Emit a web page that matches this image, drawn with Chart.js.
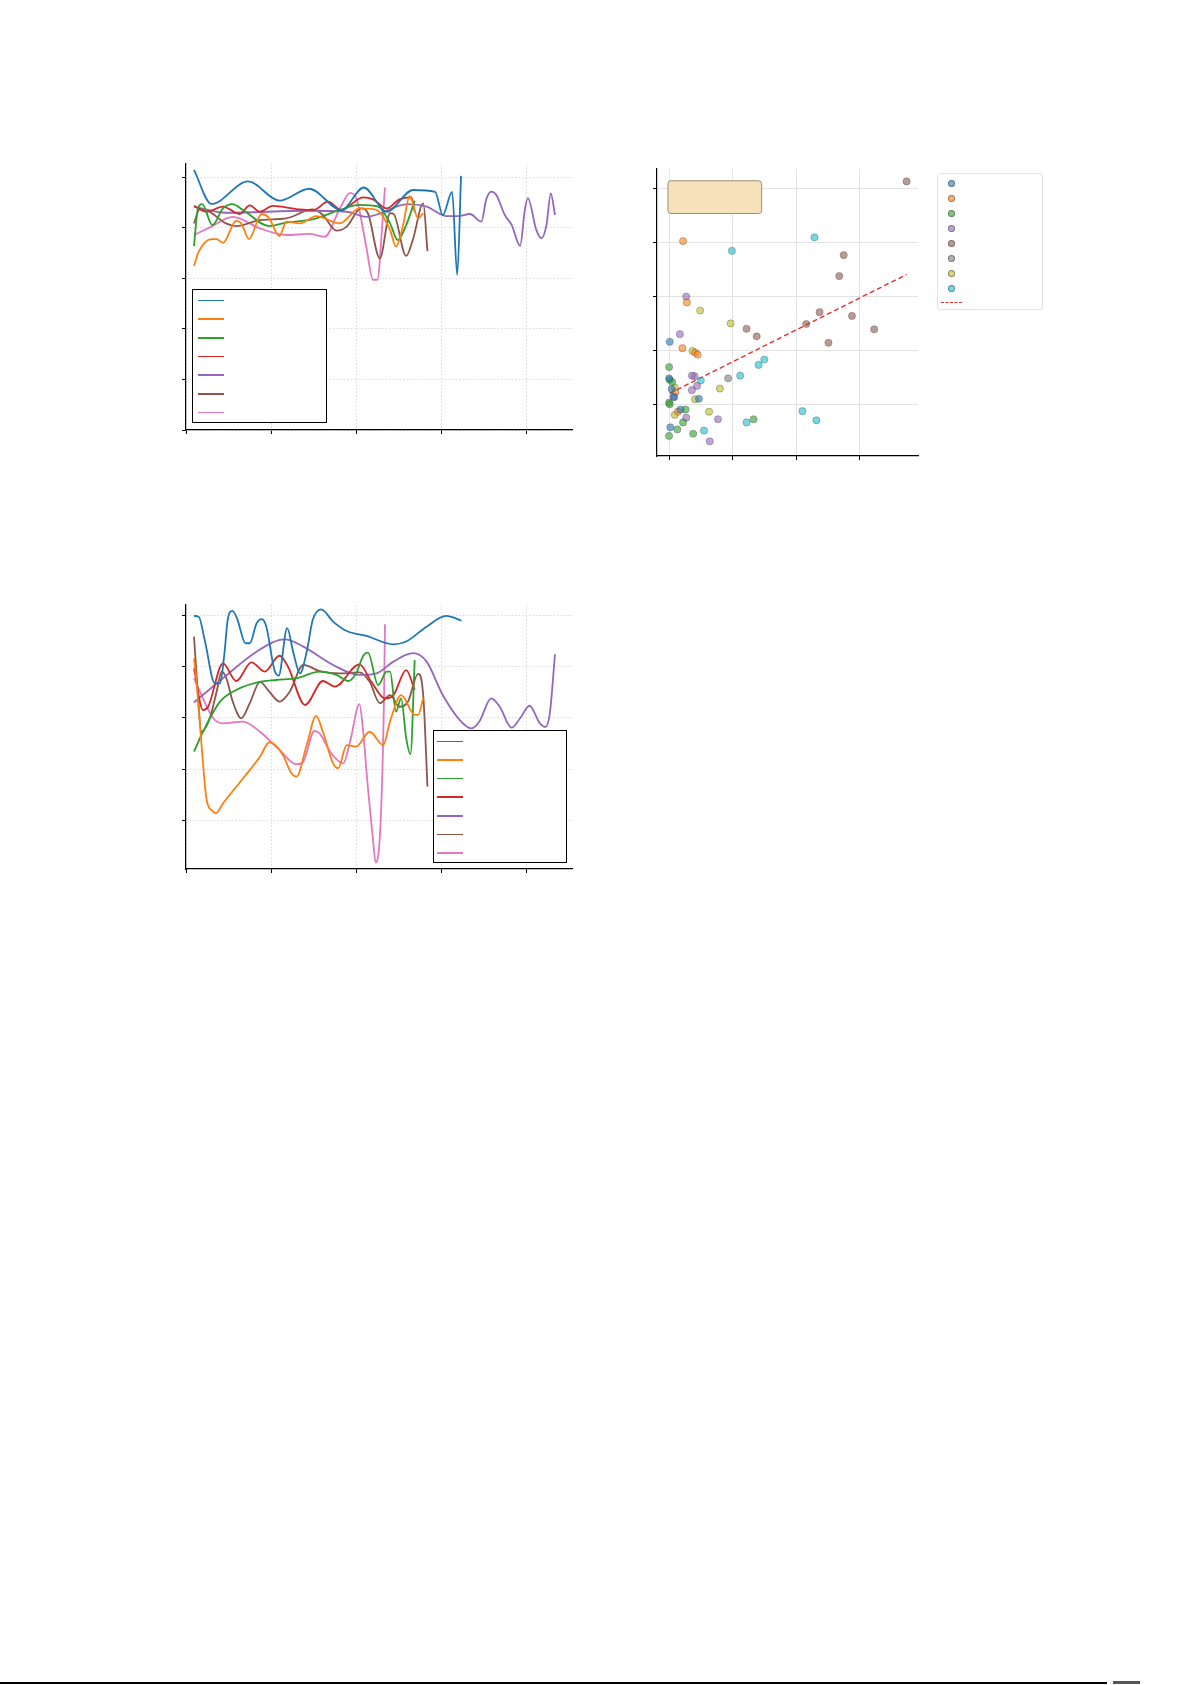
<!DOCTYPE html>
<html>
<head>
<meta charset="utf-8">
<script src="https://cdn.jsdelivr.net/npm/chart.js@4.4.1/dist/chart.umd.min.js"></script>
<style>
  body { margin: 0; background: #fff; width: 1192px; height: 1685px; position: relative; overflow: hidden; }
  canvas { position: absolute; }
  .legend { position: absolute; background: #fff; box-sizing: border-box; }
  .legend .sw { position: absolute; }
  .legend .dot { position: absolute; width: 7px; height: 7px; border-radius: 50%; box-sizing: border-box; }
  #pagerule { position: absolute; left: 0; top: 1682px; width: 1107px; height: 2px; background: #000; }
  #pagemark { position: absolute; left: 1113px; top: 1681px; width: 27px; height: 3px; background: #555; }
</style>
</head>
<body>
<canvas id="c1"></canvas>
<canvas id="c2"></canvas>
<canvas id="c3"></canvas>
<div id="pagerule"></div>
<div id="pagemark"></div>
<script>
const tab = {
  blue: '#1f77b4', orange: '#ff7f0e', green: '#2ca02c', red: '#d62728', purple: '#9467bd',
  brown: '#8c564b', pink: '#e377c2', gray: '#7f7f7f', olive: '#bcbd22', cyan: '#17becf',
};

// ---- chart 1 (top left) ----
const c1BlueX = [0.94, 3, 7.3, 11, 14.5, 18.3, 20.9, 23.6, 26.7, 29.3, 30.2, 31.3, 31.9, 32.35];
const c1BlueY = [103, 89.5, 98.4, 90.8, 95.5, 87, 96, 86.4, 95, 94.3, 85.1, 94.3, 61.4, 100.6];
const c1OrangeX = [0.94, 1.5, 3, 3.6, 4.35, 5.9, 6.5, 7.4, 8.9, 9.7, 11, 11.8, 13.4, 15.3, 18.1, 20.4, 22.4, 24, 24.7, 25.5, 26.3, 27.3, 27.9];
const c1OrangeY = [65, 70.6, 75.6, 75.6, 74.1, 82.8, 81.8, 75.6, 85.5, 84.2, 76.8, 82.5, 81.8, 84.7, 81.8, 87.7, 87.1, 79.2, 72.6, 80.5, 92.6, 83.8, 85.8];
const c1GreenX = [0.94, 1.4, 1.9, 3.1, 4.35, 5.45, 6.7, 9.8, 11.8, 14.9, 18.1, 20.4, 22.6, 24, 24.9, 25.9, 26.9];
const c1GreenY = [72.8, 87.7, 89.4, 81.1, 87.7, 89.4, 87.1, 80.7, 82.1, 83.4, 87.1, 89.1, 88.4, 81.8, 75.2, 81.1, 90.8];
const c1RedX = [0.94, 2.4, 4.35, 6.3, 7.5, 8.7, 10.2, 13.4, 15, 16.7, 18.3, 20.8, 22, 23.6, 25.1, 26.5, 26.9];
const c1RedY = [88.7, 86.4, 88.4, 85.5, 88.9, 86.4, 88.7, 87.3, 87.1, 90.4, 87.1, 92.1, 91.3, 87.7, 91.3, 92.1, 86.4];
const c1PurpleX = [0.94, 4.7, 14.5, 18.9, 21.2, 26.1, 28.3, 30.6, 32, 33.4, 34.75, 35.3, 35.9, 36.5, 37.5, 38.3, 39.3, 39.85, 40.2, 41.2, 41.8, 42.4, 42.9, 43.4];
const c1PurpleY = [88.4, 86, 86.8, 86.4, 84.4, 89.4, 88.4, 84.7, 84.7, 85.5, 82.5, 91.1, 94.4, 93, 85.1, 81.2, 72.9, 87.1, 91.8, 79.2, 75.9, 81.2, 93.7, 85.1];
const c1BrownX = [0.94, 1.6, 2.4, 4.7, 5.9, 8.7, 11.8, 14.9, 16.1, 17.7, 18.9, 20.6, 21.4, 22.8, 24, 24.4, 25.9, 26.7, 27.9, 28.4];
const c1BrownY = [81.8, 87.3, 87, 81.8, 80.7, 83.1, 83.8, 87.3, 85.1, 78.9, 80.5, 87.7, 85.8, 67.9, 85.8, 85.6, 68.9, 75.5, 89.7, 70.8];
const c1PinkX = [0.94, 2.8, 5.5, 8.7, 11.8, 14.5, 16.3, 18.1, 19.3, 20.1, 21.2, 22, 22.5, 23.1, 23.4];
const c1PinkY = [77.2, 80.2, 84.4, 79.8, 77.2, 77.6, 76.5, 87.7, 93.9, 91, 72.6, 59.4, 59.4, 81.8, 96];
const c1LegendWidths = [1, 2, 2, 1, 2, 2, 1.5];

// ---- chart 3 (bottom left) ----
const c3BlueX = [0.94, 1.5, 2.2, 3.4, 4, 4.5, 4.9, 5.45, 6, 7, 7.5, 8.3, 8.9, 9.45, 10.4, 10.9, 11.9, 12.6, 13.4, 14.2, 14.9, 15.9, 17.3, 18.9, 21.2, 24.4, 25.9, 28.3, 30.6, 32.4];
const c3BlueY = [100, 99.7, 90.6, 73.6, 73.6, 84.7, 98.4, 102, 99.1, 89.3, 89.3, 97.1, 98.8, 95.8, 78.8, 76.6, 95.2, 86, 77.5, 86, 98.4, 102.6, 97.8, 94.1, 92.2, 88.9, 90, 95.8, 100, 98.2];
const c3OrangeX = [0.94, 1.2, 1.8, 2.4, 3.2, 3.5, 4.35, 6.7, 8.7, 9.8, 10.2, 11.4, 12.4, 13, 14.2, 15.3, 16.1, 17.3, 17.9, 18.9, 20, 21.6, 23.2, 24, 25.3, 26.9, 27.3, 27.9];
const c3OrangeY = [83.4, 75.6, 50.7, 28.5, 23.3, 22.6, 26.5, 36.3, 44.8, 50.5, 50.1, 45.5, 38.3, 37, 49.4, 60.8, 54.6, 42.2, 40.3, 49.4, 48.8, 54.6, 49.4, 58.6, 69, 61.2, 61.2, 67.7];
const c3GreenX = [0.94, 2, 4, 5.9, 8.3, 10.6, 13, 15.7, 17.7, 19.1, 20, 20.9, 21.4, 22.6, 23.6, 24, 24.7, 25.3, 25.9, 26.4, 26.9];
const c3GreenY = [46.8, 54.6, 66.4, 71, 73.9, 74.9, 75.6, 78.2, 76.9, 74.5, 77.5, 84.7, 85.6, 72.9, 78.2, 78.2, 62.5, 67.7, 52, 45.8, 82.7];
const c3RedX = [0.94, 2, 2.6, 4.35, 5.9, 7.7, 9.25, 11, 12, 14, 16.1, 17.5, 20.4, 21.8, 23.4, 24.4, 25.9, 26.9];
const c3RedY = [79.5, 63.1, 64.4, 81.4, 74.5, 81.8, 78.2, 84.4, 80.1, 65.1, 74.5, 72.3, 81, 74.2, 67.7, 69, 78.8, 71];
const c3PurpleX = [0.94, 4.35, 8.3, 11.6, 13.8, 17.3, 20.4, 22.4, 24.4, 26.7, 28.3, 30.2, 32.2, 33.6, 34.5, 35.9, 36.9, 38.3, 39.3, 40.4, 41.6, 42.3, 42.8, 43.4];
const c3PurpleY = [66.1, 75.6, 86, 90.8, 88, 80.8, 76.9, 77.5, 82.1, 85.4, 82.1, 69, 59.2, 55.9, 58.6, 67.7, 64.4, 56.2, 59.9, 64.8, 58, 56.5, 62, 85];
const c3BrownX = [0.94, 1.3, 1.8, 2.8, 3.6, 4.2, 4.75, 5.5, 6.5, 7.5, 8.7, 9.8, 11, 12.2, 13.8, 15.7, 18.1, 20.4, 21.6, 22.8, 24, 25.1, 26.1, 27.3, 27.9, 28.4];
const c3BrownY = [91.9, 74.2, 54.6, 59.9, 70.3, 78.2, 75.6, 66.4, 59.9, 65.8, 74.2, 70.3, 66.4, 70.3, 80.8, 78.4, 77.5, 77.9, 74.2, 65.8, 69, 64.4, 66.4, 77.3, 69, 33.1];
const c3PinkX = [0.94, 2, 3.2, 4.35, 6.7, 8.7, 11, 13, 13.8, 15.1, 15.7, 17.1, 18.5, 19.3, 20.4, 20.8, 21.4, 22, 22.3, 22.9, 23.3, 23.4];
const c3PinkY = [75.6, 67.7, 59.9, 57.9, 58.6, 54.6, 47.5, 41.8, 42.9, 54.9, 54, 46.1, 42.2, 50.7, 65.4, 55.9, 32.4, 12, 3.4, 20, 70, 96.7];
const c3LegendWidths = [1, 2, 1, 2, 2, 1, 1.5];

// ---- chart 2 (scatter, top right) ----
const scBlueX = [0.01, 0, 0.04, 0.47, 0.18, 0.02, 0.08];
const scBlueY = [2.16, 1.48, 1.28, 1.1, 0.9, 0.57, 1.13];
const scOrangeX = [0.22, 0.28, 0.21, 0.41, 0.45, 0.14, 0.1];
const scOrangeY = [4.03, 2.89, 2.04, 1.96, 1.92, 0.86, 1.22];
const scGreenX = [0, 0.01, 0.05, 0, 0.01, 0.26, 1.33, 0.22, 0.13, 0, 0.38];
const scGreenY = [1.69, 1.45, 1.41, 1.03, 1.0, 0.9, 0.72, 0.66, 0.53, 0.41, 0.45];
const scPurpleX = [0.27, 0.17, 0.4, 0.36, 0.44, 0.36, 0.07, 0.27, 0.77, 0.64];
const scPurpleY = [3.0, 2.3, 1.52, 1.53, 1.34, 1.26, 1.14, 0.75, 0.72, 0.31];
const scBrownX = [3.74, 2.75, 2.68, 2.37, 2.88, 2.16, 1.22, 3.23, 1.38, 2.51];
const scBrownY = [5.14, 3.77, 3.38, 2.71, 2.64, 2.49, 2.4, 2.39, 2.26, 2.14];
const scGrayX = [0.93];
const scGrayY = [1.48];
const scOliveX = [0.49, 0.97, 0.37, 0.8, 0.09, 0.41, 0.63, 0.09];
const scOliveY = [2.74, 2.5, 1.99, 1.29, 1.31, 1.09, 0.86, 0.8];
const scCyanX = [2.29, 0.99, 1.5, 1.41, 1.12, 0.5, 2.1, 2.32, 1.22, 0.55];
const scCyanY = [4.1, 3.85, 1.83, 1.73, 1.53, 1.44, 0.87, 0.7, 0.66, 0.51];
const trendX = [0.01, 3.74];
const trendY = [1.2, 3.41];

function pts(xs, ys) { return xs.map((x, i) => ({ x, y: ys[i] })); }
function rgba(hex, a) {
  const n = parseInt(hex.slice(1), 16);
  return `rgba(${n >> 16},${(n >> 8) & 255},${n & 255},${a})`;
}

const PAD = 12;
const TICK = 4;

function place(canvas, box) {
  const w = box.right - box.left + 2 * PAD;
  const h = box.bottom - box.top + 2 * PAD;
  canvas.width = w;
  canvas.height = h;
  canvas.style.left = (box.left - PAD) + 'px';
  canvas.style.top = (box.top - PAD) + 'px';
  canvas.style.width = w + 'px';
  canvas.style.height = h + 'px';
}

function axis(min, max, step, dotted) {
  return {
    type: 'linear', min, max,
    ticks: { display: false, stepSize: step, includeBounds: false },
    grid: { color: dotted ? '#d9d9d9' : '#e3e3e3', lineWidth: 1, tickLength: TICK, tickColor: '#000', tickWidth: 1 },
    border: { display: true, color: '#000', width: 1.2, dash: dotted ? [1.5, 2] : [] },
  };
}

function lineChart(id, box, series, yMin, yMax) {
  const canvas = document.getElementById(id);
  place(canvas, box);
  return new Chart(canvas, {
    type: 'line',
    data: {
      datasets: series.map((s) => ({
        data: pts(s.x, s.y),
        borderColor: s.color,
        borderWidth: 1.8,
        pointRadius: 0,
        fill: false,
        cubicInterpolationMode: 'monotone',
      })),
    },
    options: {
      responsive: false,
      animation: false,
      devicePixelRatio: 1,
      layout: { padding: { left: PAD - TICK, top: PAD, right: PAD, bottom: PAD - TICK } },
      plugins: { legend: { display: false }, tooltip: { enabled: false } },
      scales: {
        x: axis(0, 45.4, 10, true),
        y: axis(yMin, yMax, 20, true),
      },
    },
  });
}

function lineLegend(box, colors, widths, firstY, gap, swLeft) {
  const el = document.createElement('div');
  el.className = 'legend';
  Object.assign(el.style, {
    left: box.left + 'px', top: box.top + 'px',
    width: (box.right - box.left) + 'px', height: (box.bottom - box.top) + 'px',
    border: '1.3px solid #000',
  });
  colors.forEach((c, i) => {
    const sw = document.createElement('div');
    sw.className = 'sw';
    Object.assign(sw.style, {
      left: (swLeft - box.left) + 'px',
      top: (firstY + gap * i - box.top - widths[i] / 2) + 'px',
      width: '26px', height: widths[i] + 'px', background: c,
    });
    el.appendChild(sw);
  });
  document.body.appendChild(el);
}

const c1Series = [
  { x: c1BlueX, y: c1BlueY, color: tab.blue },
  { x: c1OrangeX, y: c1OrangeY, color: tab.orange },
  { x: c1GreenX, y: c1GreenY, color: tab.green },
  { x: c1RedX, y: c1RedY, color: tab.red },
  { x: c1PurpleX, y: c1PurpleY, color: tab.purple },
  { x: c1BrownX, y: c1BrownY, color: tab.brown },
  { x: c1PinkX, y: c1PinkY, color: tab.pink },
];
const c3Series = [
  { x: c3BlueX, y: c3BlueY, color: tab.blue },
  { x: c3OrangeX, y: c3OrangeY, color: tab.orange },
  { x: c3GreenX, y: c3GreenY, color: tab.green },
  { x: c3RedX, y: c3RedY, color: tab.red },
  { x: c3PurpleX, y: c3PurpleY, color: tab.purple },
  { x: c3BrownX, y: c3BrownY, color: tab.brown },
  { x: c3PinkX, y: c3PinkY, color: tab.pink },
];

lineChart('c1', { left: 186, top: 164, right: 572, bottom: 430 }, c1Series, 0, 105.3);
lineChart('c3', { left: 186, top: 605, right: 572, bottom: 869 }, c3Series, 0.8, 104.3);

lineLegend({ left: 192, top: 289, right: 327, bottom: 423 }, c1Series.map((s) => s.color), c1LegendWidths, 299.5, 18.7, 197);
lineLegend({ left: 433, top: 730, right: 567, bottom: 863 }, c3Series.map((s) => s.color), c3LegendWidths, 740.5, 18.6, 436);

// ---- scatter ----
const scSeries = [
  { x: scBlueX, y: scBlueY, color: tab.blue },
  { x: scOrangeX, y: scOrangeY, color: tab.orange },
  { x: scGreenX, y: scGreenY, color: tab.green },
  { x: scPurpleX, y: scPurpleY, color: tab.purple },
  { x: scBrownX, y: scBrownY, color: tab.brown },
  { x: scGrayX, y: scGrayY, color: tab.gray },
  { x: scOliveX, y: scOliveY, color: tab.olive },
  { x: scCyanX, y: scCyanY, color: tab.cyan },
];

const noteBox = {
  id: 'noteBox',
  afterDraw(chart) {
    const { ctx, chartArea: a } = chart;
    const w = a.right - a.left;
    const h = a.bottom - a.top;
    const x = a.left + 0.042 * w;
    const y = a.top + 0.041 * h;
    ctx.save();
    ctx.beginPath();
    ctx.roundRect(x, y, 0.359 * w, 0.114 * h, 3);
    ctx.fillStyle = 'rgba(245,222,179,0.9)';
    ctx.fill();
    ctx.strokeStyle = '#9a9080';
    ctx.lineWidth = 1;
    ctx.stroke();
    ctx.restore();
  },
};

const scBox = { left: 657, top: 169, right: 918, bottom: 456 };
const c2 = document.getElementById('c2');
place(c2, scBox);
new Chart(c2, {
  type: 'scatter',
  data: {
    datasets: scSeries.map((s) => ({
      data: pts(s.x, s.y),
      pointRadius: 3.6,
      pointBackgroundColor: rgba(s.color, 0.6),
      pointBorderColor: 'rgba(60,60,60,0.55)',
      pointBorderWidth: 0.6,
    })).concat([{
      type: 'line',
      data: pts(trendX, trendY),
      borderColor: '#e0332f',
      borderDash: [5, 3],
      borderWidth: 1.4,
      pointRadius: 0,
      fill: false,
    }]),
  },
  options: {
    responsive: false,
    animation: false,
    devicePixelRatio: 1,
    layout: { padding: { left: PAD - TICK, top: PAD, right: PAD, bottom: PAD - TICK } },
    plugins: { legend: { display: false }, tooltip: { enabled: false } },
    scales: {
      x: axis(-0.19, 3.92, 1, false),
      y: axis(0.037, 5.37, 1, false),
    },
  },
  plugins: [noteBox],
});

// scatter legend
(function () {
  const el = document.createElement('div');
  el.className = 'legend';
  Object.assign(el.style, {
    left: '937px', top: '173px', width: '106px', height: '137px',
    border: '1px solid #e2e2e2', borderRadius: '3px',
  });
  scSeries.forEach((s, i) => {
    const d = document.createElement('div');
    d.className = 'dot';
    Object.assign(d.style, {
      left: (950 - 937 - 3.5) + 'px', top: (182.5 + 15 * i - 173 - 3.5) + 'px',
      background: rgba(s.color, 0.6), border: '0.6px solid rgba(60,60,60,0.5)',
    });
    el.appendChild(d);
  });
  const dash = document.createElement('div');
  Object.assign(dash.style, {
    position: 'absolute', left: (940 - 937) + 'px', top: (301 - 173) + 'px',
    width: '21px', height: '0', borderTop: '1.3px dashed #e0332f',
  });
  el.appendChild(dash);
  document.body.appendChild(el);
})();
</script>
</body>
</html>
